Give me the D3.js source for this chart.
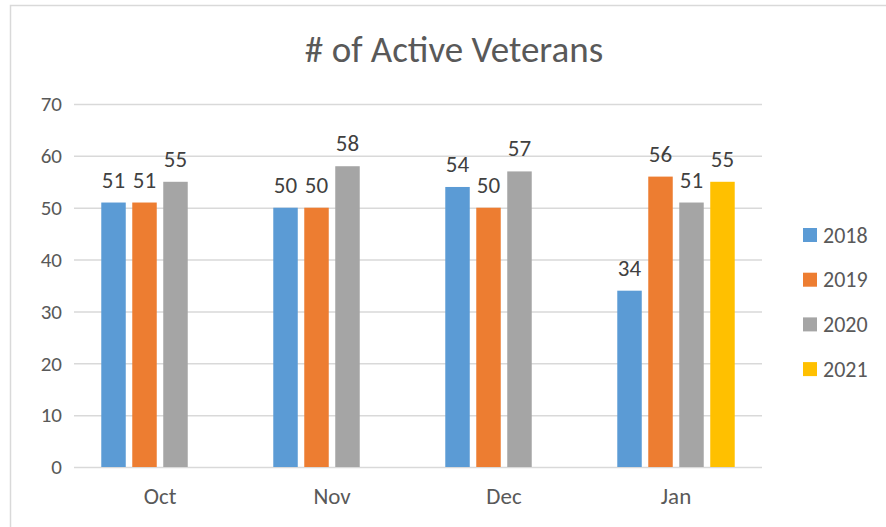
<!DOCTYPE html>
<html>
<head>
<meta charset="utf-8">
<script src="https://cdn.jsdelivr.net/npm/d3@7"></script>
<style>
  html, body { margin: 0; padding: 0; background: #fff; }
  svg { display: block; font-family: Carlito, Lato, sans-serif; }
</style>
</head>
<body>
<svg id="chart" width="886" height="527"></svg>
<script>
// Monthly counts of active veterans, one series per year
const months = ["Oct", "Nov", "Dec", "Jan"];
const years = ["2018", "2019", "2020", "2021"];
const values2018 = [51, 50, 54, 34];
const values2019 = [51, 50, 50, 56];
const values2020 = [55, 58, 57, 51];
const values2021 = [null, null, null, 55];
const yTicks = [0, 10, 20, 30, 40, 50, 60, 70];
const colors = ["#5B9BD5", "#ED7D31", "#A5A5A5", "#FFC000"];
const titleText = "# of Active Veterans";

const seriesValues = [values2018, values2019, values2020, values2021];
const rows = [];
months.forEach((m, i) => {
  years.forEach((y, j) => {
    const v = seriesValues[j][i];
    if (v !== null) rows.push({ month: m, year: y, value: v });
  });
});

const svg = d3.select("#chart");
const textColor = "#595959";
const gridColor = "#d9d9d9";
const fontFamily = "Carlito, Lato, sans-serif";

// Chart frame (left and top edges visible)
svg.append("path")
  .attr("d", "M10.5,527 V5.5 H886")
  .attr("fill", "none")
  .attr("stroke", gridColor)
  .attr("stroke-width", 1.5);

const plot = { left: 74, right: 762, top: 104, bottom: 467 };

const x0 = d3.scaleBand().domain(months).range([plot.left, plot.right]);
const x1 = d3.scaleBand().domain(years)
  .range([0, x0.bandwidth()])
  .paddingInner(0.21)
  .paddingOuter(0.88);
const y = d3.scaleLinear().domain([0, 70]).range([plot.bottom, plot.top]);

// Title
svg.append("text")
  .attr("x", 454)
  .attr("y", 62)
  .attr("text-anchor", "middle")
  .attr("fill", textColor)
  .attr("font-size", 37)
  .text(titleText);

// Gridlines and value axis
const yAxis = d3.axisLeft(y)
  .tickValues(yTicks)
  .tickSize(-(plot.right - plot.left))
  .tickPadding(12);
const gy = svg.append("g")
  .attr("transform", `translate(${plot.left},0)`)
  .call(yAxis);
gy.select(".domain").remove();
gy.selectAll(".tick line").attr("stroke", gridColor).attr("stroke-width", 1.5);
gy.selectAll(".tick text")
  .attr("fill", textColor)
  .attr("font-size", 21)
  .attr("font-family", fontFamily);

// Category axis labels
const xAxis = d3.axisBottom(x0).tickSize(0).tickPadding(21);
const gx = svg.append("g")
  .attr("transform", `translate(0,${plot.bottom})`)
  .call(xAxis);
gx.select(".domain").remove();
gx.selectAll(".tick text")
  .attr("fill", textColor)
  .attr("font-size", 23)
  .attr("font-family", fontFamily);

// Bars
const colorOf = d3.scaleOrdinal().domain(years).range(colors);
const bars = svg.append("g");
bars.selectAll("rect")
  .data(rows)
  .join("rect")
  .attr("x", d => x0(d.month) + x1(d.year))
  .attr("y", d => y(d.value))
  .attr("width", x1.bandwidth())
  .attr("height", d => y(0) - y(d.value))
  .attr("fill", d => colorOf(d.year));

// Value labels above bars
svg.append("g").selectAll("text")
  .data(rows)
  .join("text")
  .attr("x", d => x0(d.month) + x1(d.year) + x1.bandwidth() / 2)
  .attr("y", d => y(d.value) - 15)
  .attr("text-anchor", "middle")
  .attr("fill", "#404040")
  .attr("font-size", 23)
  .text(d => d.value);

// Legend
const legend = svg.append("g").attr("transform", "translate(803,235)");
const item = legend.selectAll("g")
  .data(years)
  .join("g")
  .attr("transform", (d, i) => `translate(0,${i * 44.7})`);
item.append("rect")
  .attr("x", 0).attr("y", -7)
  .attr("width", 14).attr("height", 14)
  .attr("fill", d => colorOf(d));
item.append("text")
  .attr("x", 20)
  .attr("y", 0)
  .attr("dy", "0.35em")
  .attr("fill", textColor)
  .attr("font-size", 22)
  .text(d => d);
</script>
</body>
</html>
